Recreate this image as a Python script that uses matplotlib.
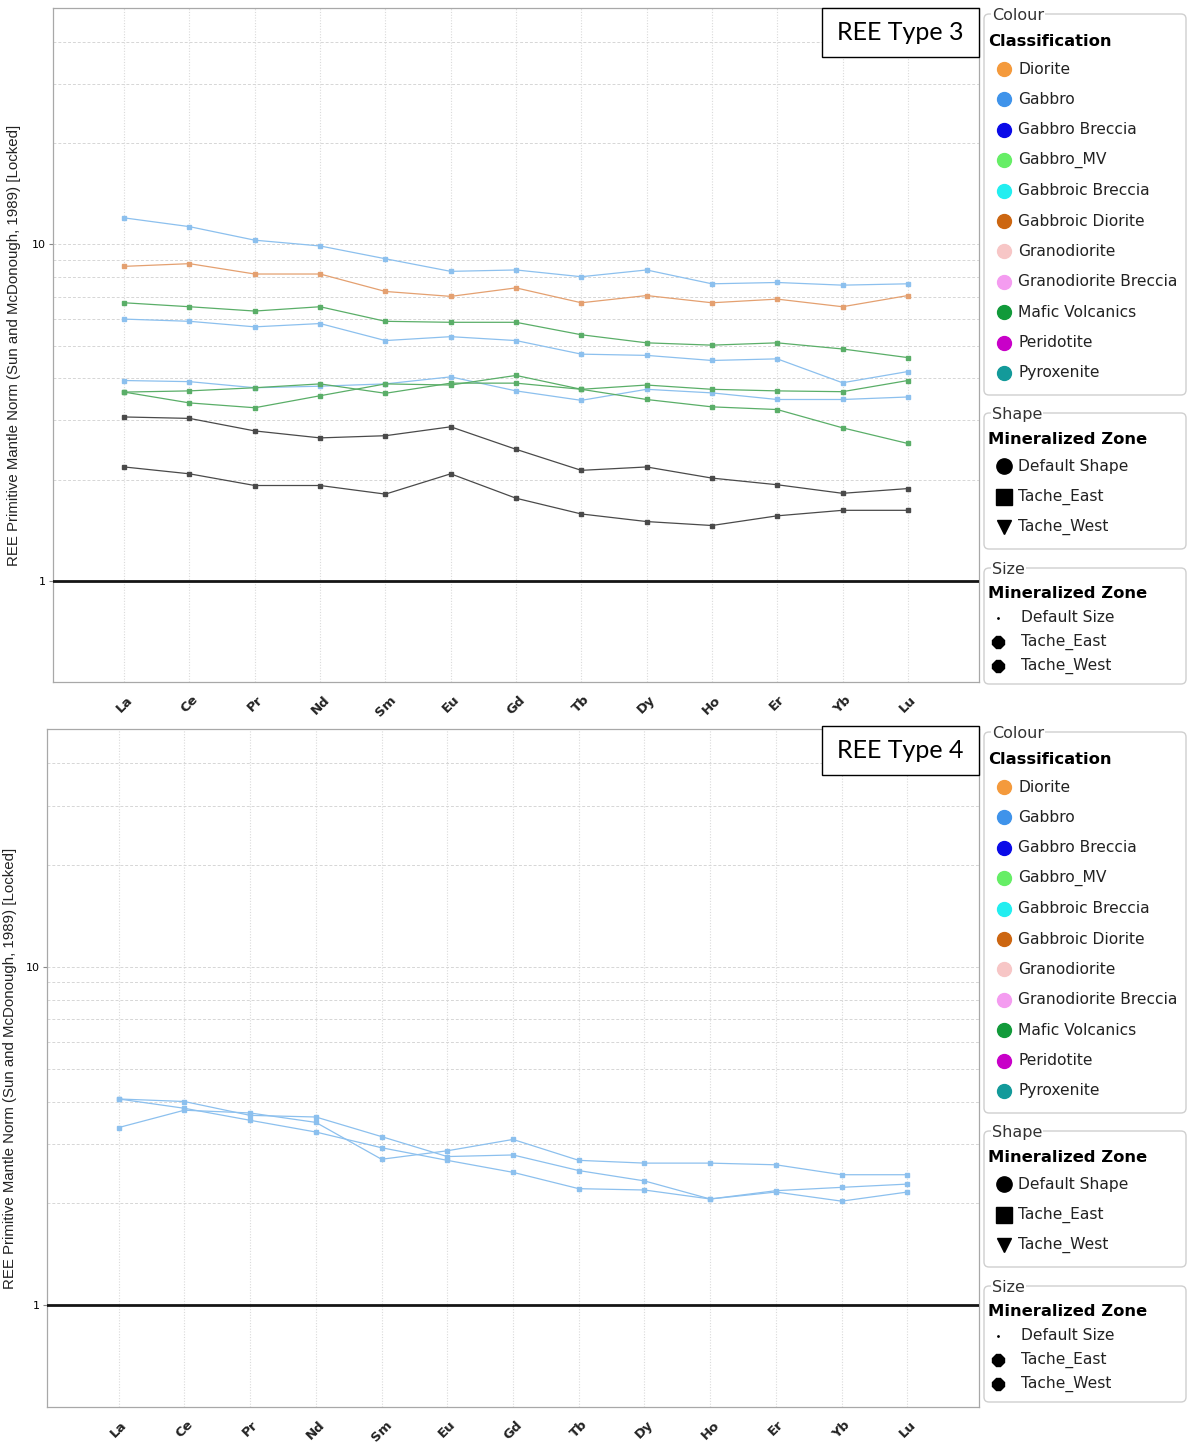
import numpy as np
import matplotlib.pyplot as plt
from matplotlib.patches import FancyBboxPatch, Rectangle
from matplotlib.ticker import FixedLocator, NullFormatter

# --- data ---
elements = ['La', 'Ce', 'Pr', 'Nd', 'Sm', 'Eu', 'Gd', 'Tb', 'Dy', 'Ho', 'Er', 'Yb', 'Lu']

# REE Type 3
t3_gabbro_1 = [12.0, 11.3, 10.3, 9.9, 9.07, 8.32, 8.40, 8.02, 8.40, 7.64, 7.71, 7.57, 7.64]
t3_gabbro_2 = [6.00, 5.91, 5.69, 5.82, 5.18, 5.32, 5.18, 4.72, 4.68, 4.52, 4.57, 3.88, 4.19]
t3_gabbro_3 = [3.94, 3.91, 3.75, 3.79, 3.85, 4.04, 3.67, 3.44, 3.71, 3.62, 3.46, 3.46, 3.52]
t3_diorite = [8.61, 8.77, 8.17, 8.17, 7.25, 7.01, 7.43, 6.71, 7.05, 6.71, 6.88, 6.53, 7.05]
t3_mafic_1 = [6.71, 6.53, 6.34, 6.53, 5.91, 5.87, 5.87, 5.39, 5.10, 5.02, 5.10, 4.89, 4.61]
t3_mafic_2 = [3.64, 3.67, 3.75, 3.85, 3.61, 3.87, 3.87, 3.71, 3.82, 3.71, 3.67, 3.65, 3.94]
t3_mafic_3 = [3.64, 3.38, 3.27, 3.55, 3.85, 3.82, 4.08, 3.71, 3.46, 3.29, 3.23, 2.85, 2.56]
t3_other_1 = [3.07, 3.04, 2.79, 2.66, 2.70, 2.87, 2.46, 2.13, 2.18, 2.02, 1.93, 1.82, 1.88]
t3_other_2 = [2.18, 2.08, 1.92, 1.92, 1.81, 2.08, 1.76, 1.58, 1.50, 1.46, 1.56, 1.62, 1.62]

# REE Type 4
t4_gabbro_1 = [4.07, 4.00, 3.64, 3.60, 3.15, 2.75, 2.78, 2.50, 2.33, 2.06, 2.18, 2.23, 2.28]
t4_gabbro_2 = [4.07, 3.82, 3.52, 3.25, 2.92, 2.68, 2.47, 2.21, 2.19, 2.06, 2.16, 2.03, 2.16]
t4_gabbro_3 = [3.35, 3.77, 3.70, 3.47, 2.70, 2.86, 3.09, 2.68, 2.63, 2.63, 2.60, 2.43, 2.43]

classes = ['Diorite', 'Gabbro', 'Gabbro Breccia', 'Gabbro_MV', 'Gabbroic Breccia',
           'Gabbroic Diorite', 'Granodiorite', 'Granodiorite Breccia', 'Mafic Volcanics',
           'Peridotite', 'Pyroxenite']
class_colors = ['#f49a3c', '#3f93ea', '#0a0ae8', '#66ee66', '#22eef0',
                '#cc6611', '#f7c6c6', '#f49cf0', '#119a3a', '#c800c8', '#139a9a']
shape_items = ['Default Shape', 'Tache_East', 'Tache_West']
size_items = ['Default Size', 'Tache_East', 'Tache_West']

line_blue = '#8cc0ee'
line_orange = '#e4a070'
line_green = '#5aae68'
line_black = '#4a4a4a'

W, H = 1191, 1452
fig = plt.figure(figsize=(W / 100, H / 100), dpi=100)


def draw_panel(left, top, right, bottom, series, label_x):
    ax = fig.add_axes([left / W, 1 - bottom / H, (right - left) / W, (bottom - top) / H])
    x = np.arange(len(elements))
    for vals, col in series:
        ax.plot(x, vals, color=col, lw=0.9, marker='s', ms=2.6, mec=col, mfc=col, zorder=3)
    ax.axhline(1, color='#151515', lw=2.0, zorder=4)
    ax.set_yscale('log')
    ax.set_ylim(0.5, 50.5)
    ax.set_xlim(-1.09, len(elements) - 1 + 1.09)
    ax.yaxis.set_major_locator(FixedLocator([1, 10]))
    ax.yaxis.set_minor_locator(FixedLocator([2, 3, 4, 5, 6, 7, 8, 9, 20, 30, 40]))
    ax.yaxis.set_minor_formatter(NullFormatter())
    ax.set_yticks([1, 10], ['1', '10'])
    ax.tick_params(axis='y', which='major', labelsize=8, length=3, color='#888', pad=2)
    ax.tick_params(axis='y', which='minor', length=0)
    ax.grid(axis='y', which='both', color='#d6d6d6', ls=(0, (3, 2)), lw=0.7)
    ax.set_xticks(x)
    ax.set_xticklabels(elements, rotation=45, fontweight='bold', fontsize=9.5, color='#222')
    ax.tick_params(axis='x', length=0, pad=8)
    ax.grid(axis='x', color='#dadada', ls=(0, (1, 1.5)), lw=0.8)
    for s in ax.spines.values():
        s.set_color('#a8a8a8')
        s.set_linewidth(0.9)
    ax.set_ylabel('REE Primitive Mantle Norm (Sun and McDonough, 1989) [Locked]',
                  fontsize=10.8, family='Liberation Sans', color='#222')
    ax.yaxis.set_label_coords(label_x, 0.5)
    return ax


draw_panel(53, 8, 979, 682,
           [(t3_gabbro_1, line_blue), (t3_gabbro_2, line_blue), (t3_gabbro_3, line_blue),
            (t3_diorite, line_orange),
            (t3_mafic_1, line_green), (t3_mafic_2, line_green), (t3_mafic_3, line_green),
            (t3_other_1, line_black), (t3_other_2, line_black)], -0.0345)
draw_panel(47, 729, 979, 1407,
           [(t4_gabbro_1, line_blue), (t4_gabbro_2, line_blue), (t4_gabbro_3, line_blue)], -0.032)

# overlay in pixel coordinates for boxes and legends
ov = fig.add_axes([0, 0, 1, 1], facecolor='none')
ov.set_xlim(0, W)
ov.set_ylim(H, 0)
ov.axis('off')

FS = 11.2
FSB = 11.8


def titled_box(x0, x1, y0, y1, title):
    ov.add_patch(FancyBboxPatch((x0, y0), x1 - x0, y1 - y0,
                                boxstyle='round,pad=0,rounding_size=5',
                                fc='white', ec='#cfcfcf', lw=1.0))
    ov.text(x0 + 8, y0 + 1, title, fontsize=11.5, color='#333', va='center', ha='left',
            bbox=dict(fc='white', ec='none', pad=0.5))


def draw_legend(dy, name):
    # title box
    ov.add_patch(Rectangle((822, 8 + dy), 157, 49, fc='white', ec='black', lw=1.0))
    ov.text(900, 33 + dy, name, fontsize=18, family='Lato', ha='center', va='center')

    titled_box(984, 1186, 14 + dy, 395 + dy, 'Colour')
    ov.text(988, 42 + dy, 'Classification', fontsize=FSB, fontweight='bold', va='center')
    for i, (c, col) in enumerate(zip(classes, class_colors)):
        yy = 69 + dy + 30.4 * i
        ov.plot(1004, yy, 'o', ms=10, color=col)
        ov.text(1018, yy, c, fontsize=FS, color='#222', va='center')

    titled_box(984, 1186, 413 + dy, 549 + dy, 'Shape')
    ov.text(988, 439 + dy, 'Mineralized Zone', fontsize=FSB, fontweight='bold', va='center')
    for i, (s, m) in enumerate(zip(shape_items, ['o', 's', 'v'])):
        yy = 466 + dy + 30.5 * i
        ov.plot(1004, yy, m, ms=11 if m != 'v' else 10, color='black')
        ov.text(1018, yy, s, fontsize=FS, color='#222', va='center')

    titled_box(984, 1186, 568 + dy, 684 + dy, 'Size')
    ov.text(988, 594 + dy, 'Mineralized Zone', fontsize=FSB, fontweight='bold', va='center')
    for i, (s, ms) in enumerate(zip(size_items, [2, 9, 9])):
        yy = 618 + dy + 24 * i
        ov.plot(998, yy, '8' if ms > 2 else '.', ms=ms, color='black')
        ov.text(1021, yy, s, fontsize=FS, color='#222', va='center')


draw_legend(0, 'REE Type 3')
draw_legend(718, 'REE Type 4')

fig.savefig('out.png', dpi=100)
